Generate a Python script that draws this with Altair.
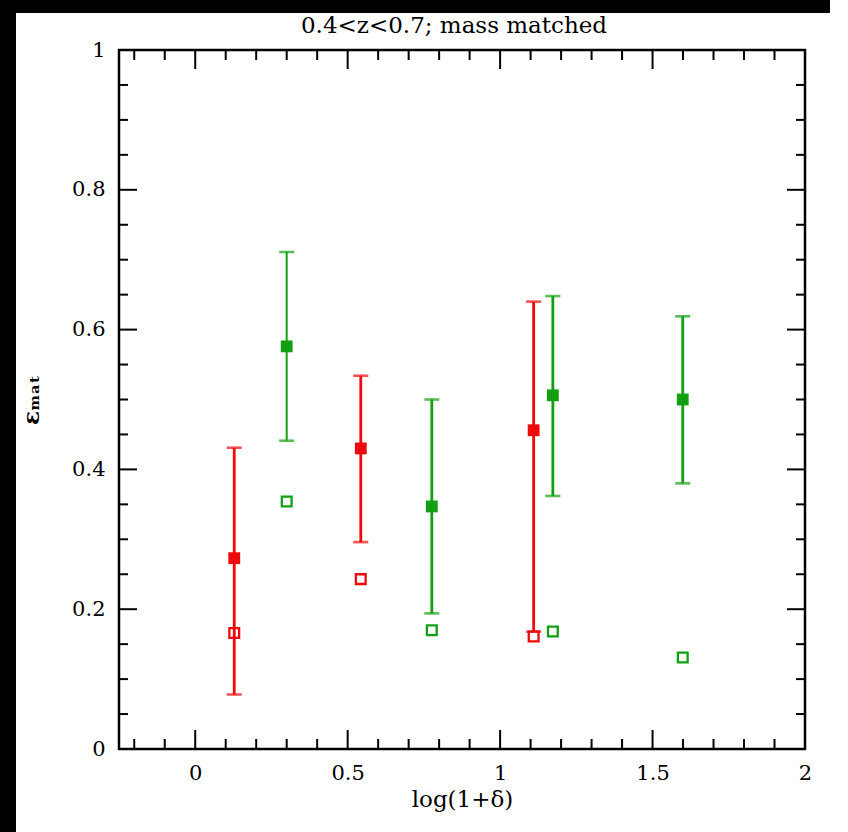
import altair as alt
import pandas as pd

# ---- data ----
red_x = [0.128, 0.543, 1.11]
red_y = [0.273, 0.43, 0.456]
red_hi = [0.431, 0.534, 0.640]
red_lo = [0.078, 0.296, 0.168]
red_open = [0.166, 0.243, 0.161]

green_x = [0.30, 0.776, 1.173, 1.599]
green_y = [0.576, 0.347, 0.506, 0.500]
green_hi = [0.711, 0.500, 0.648, 0.619]
green_lo = [0.441, 0.194, 0.362, 0.380]
green_open = [0.354, 0.170, 0.168, 0.131]

x_major = [0, 0.5, 1, 1.5]
x_minor = [-0.2, -0.1, 0.1, 0.2, 0.3, 0.4, 0.6, 0.7, 0.8, 0.9,
           1.1, 1.2, 1.3, 1.4, 1.6, 1.7, 1.8, 1.9]
y_major = [0.2, 0.4, 0.6, 0.8]
y_minor = [0.05, 0.1, 0.15, 0.25, 0.3, 0.35, 0.45, 0.5, 0.55,
           0.65, 0.7, 0.75, 0.85, 0.9, 0.95]
x_labels = [0, 0.5, 1, 1.5, 2]
y_labels = [0, 0.2, 0.4, 0.6, 0.8, 1]
title_text = "0.4<z<0.7; mass matched"

RED = "#ee0a0a"
GREEN = "#12a012"
W, H = 686, 699
PAD = {"left": 119, "top": 50, "right": 25, "bottom": 83}
FONT = "DejaVu Serif"

red = pd.DataFrame({"x": red_x, "y": red_y, "hi": red_hi, "lo": red_lo, "open": red_open})
green = pd.DataFrame({"x": green_x, "y": green_y, "hi": green_hi, "lo": green_lo, "open": green_open})

xs = alt.Scale(domain=[-0.25, 2], nice=False, zero=False)
ys = alt.Scale(domain=[0, 1], nice=False, zero=False)

xaxis = alt.Axis(values=x_labels, format="~g", ticks=False, domain=False, grid=False,
                 labelFlush=False, labelOverlap=False,
                 labelFont=FONT, labelFontSize=21, labelColor="black", labelPadding=13,
                 title="log(1+δ)", titleFont=FONT, titleFontSize=23, titleFontWeight="normal",
                 titleColor="black", titlePadding=5)
yaxis = alt.Axis(values=y_labels, format="~g", ticks=False, domain=False, grid=False,
                 labelFlush=False, labelOverlap=False,
                 labelFont=FONT, labelFontSize=21, labelColor="black", labelPadding=14,
                 title="εₘₐₜ", titleFont=FONT, titleFontSize=23, titleFontWeight="bold",
                 titleColor="black", titlePadding=28)


def series(df, color, first=False, thin_below=None):
    base = alt.Chart(df)
    if first:
        kw = dict(x=alt.X("x:Q", scale=xs, axis=xaxis), y=alt.Y("y:Q", scale=ys, axis=yaxis))
    else:
        kw = dict(x=alt.X("x:Q", scale=xs), y=alt.Y("y:Q", scale=ys))
    if thin_below is not None:
        sw = alt.condition(alt.datum.x < thin_below, alt.value(2.0), alt.value(2.8))
    else:
        sw = alt.value(2.8)
    bar = base.mark_rule(color=color).encode(
        x=alt.X("x:Q", scale=xs), y=alt.Y("lo:Q", scale=ys), y2="hi:Q", strokeWidth=sw)
    cap_hi = base.mark_tick(color=color, orient="horizontal", size=15, thickness=2.6).encode(
        x=alt.X("x:Q", scale=xs), y=alt.Y("hi:Q", scale=ys))
    cap_lo = base.mark_tick(color=color, orient="horizontal", size=15, thickness=2.6).encode(
        x=alt.X("x:Q", scale=xs), y=alt.Y("lo:Q", scale=ys))
    filled = base.mark_square(color=color, filled=True, size=140, opacity=1).encode(**kw)
    opn = base.mark_square(color=color, filled=False, size=95, strokeWidth=2.3, opacity=1).encode(
        x=alt.X("x:Q", scale=xs), y=alt.Y("open:Q", scale=ys))
    return [filled, bar, cap_hi, cap_lo, opn]


def ticks_x(vals, length):
    d = pd.DataFrame({"v": vals})
    b = alt.Chart(d).mark_rule(color="black", strokeWidth=2).encode(
        x=alt.X("v:Q", scale=xs), y=alt.value(H), y2=alt.value(H - length))
    t = alt.Chart(d).mark_rule(color="black", strokeWidth=2).encode(
        x=alt.X("v:Q", scale=xs), y=alt.value(0), y2=alt.value(length))
    return [b, t]


def ticks_y(vals, length):
    d = pd.DataFrame({"v": vals})
    l = alt.Chart(d).mark_rule(color="black", strokeWidth=2).encode(
        y=alt.Y("v:Q", scale=ys), x=alt.value(0), x2=alt.value(length))
    r = alt.Chart(d).mark_rule(color="black", strokeWidth=2).encode(
        y=alt.Y("v:Q", scale=ys), x=alt.value(W), x2=alt.value(W - length))
    return [l, r]


one = pd.DataFrame({"t": [title_text]})
strip_left = alt.Chart(one).mark_rect(color="black").encode(
    x=alt.value(-PAD["left"]), x2=alt.value(-PAD["left"] + 16),
    y=alt.value(-PAD["top"]), y2=alt.value(H + PAD["bottom"]))
strip_top = alt.Chart(one).mark_rect(color="black").encode(
    x=alt.value(-PAD["left"]), x2=alt.value(W + PAD["right"]),
    y=alt.value(-PAD["top"]), y2=alt.value(-PAD["top"] + 13))
title = alt.Chart(one).mark_text(font=FONT, fontSize=23, color="black", baseline="alphabetic",
                                 align="center").encode(
    x=alt.value(W / 2 - 8), y=alt.value(-17), text="t:N")

layers = series(red, RED, first=True) + series(green, GREEN, thin_below=0.5)
layers += ticks_x(x_major, 19) + ticks_x(x_minor, 10)
layers += ticks_y(y_major, 18) + ticks_y(y_minor, 9)
layers += [strip_left, strip_top, title]

chart = alt.layer(*layers).properties(
    width=W, height=H, padding=PAD, background="white",
    autosize=alt.AutoSizeParams(type="none"),
).configure_view(stroke="black", strokeWidth=2.5, fill="white")

chart.save("out.html", embed_options={"renderer": "svg", "actions": False})
